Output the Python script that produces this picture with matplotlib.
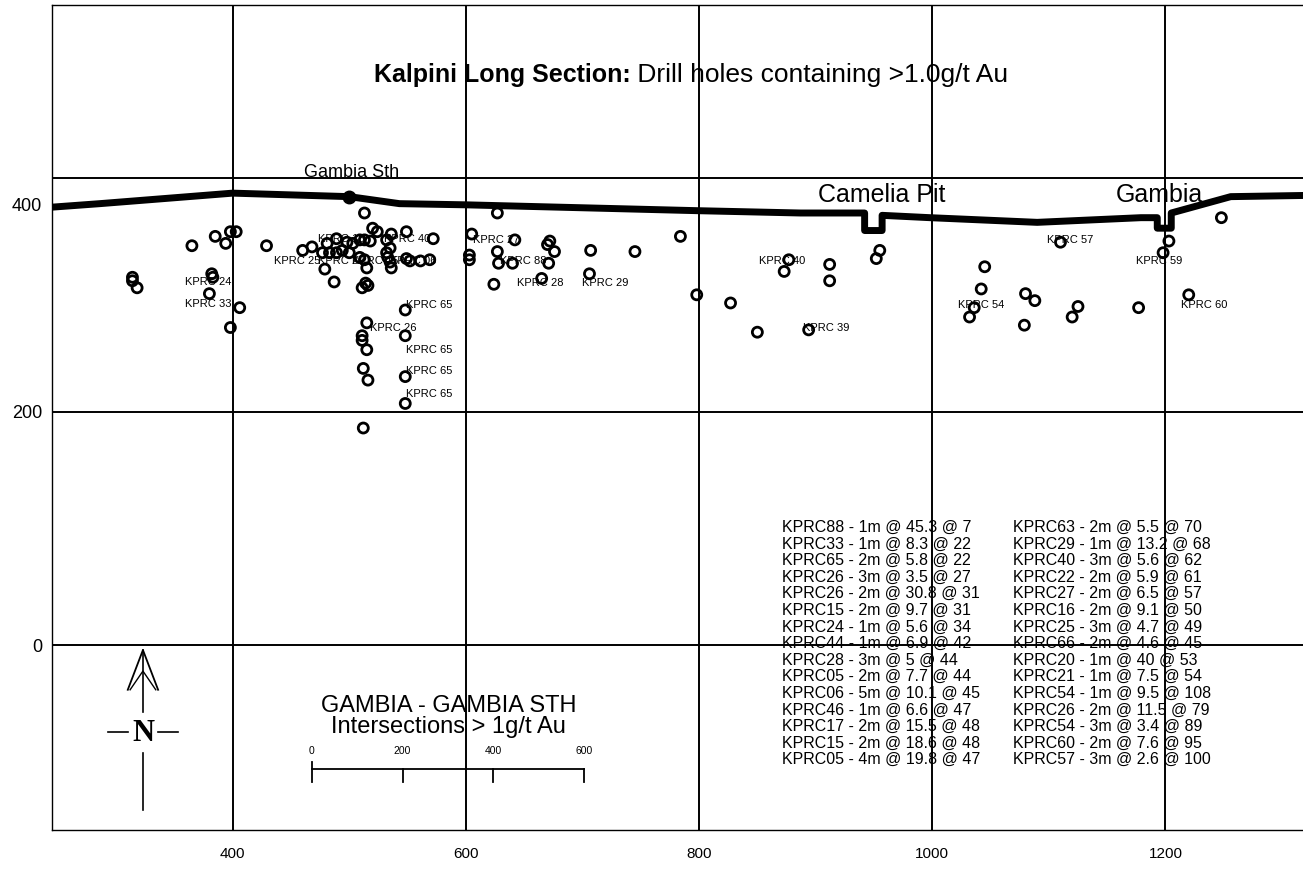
import numpy as np
import matplotlib
matplotlib.use("Agg")
import matplotlib.pyplot as plt
import matplotlib.transforms as mtransforms

plt.rcParams['font.family'] = ['Liberation Sans', 'DejaVu Sans']

# --- data (easting vs RL) ---
hole_x = [314, 314, 318, 365, 385, 394, 398, 403, 382, 383, 380, 406, 398, 429, 460,
          468, 479, 487, 513, 520, 524, 536, 549, 572, 509, 513, 518, 477, 483, 489,
          494, 500, 481, 489, 498, 503, 509, 513, 515, 532, 535, 532, 533, 535, 536,
          549, 552, 561, 569, 511, 514, 516, 548, 515, 511, 511, 515, 548, 512, 516,
          548, 548, 512, 627, 605, 603, 603, 627, 628, 640, 642, 624, 672, 670, 676,
          671, 665, 707, 706, 745, 784, 798, 827, 850, 877, 873, 894, 912, 912, 955,
          952, 1045, 1042, 1036, 1032, 1080, 1088, 1079, 1125, 1120, 1110, 1177, 1203,
          1198, 1248, 1220]
hole_y = [315, 312, 306, 342, 350, 344, 354, 354, 318, 315, 301, 289, 272, 342, 338,
          341, 322, 311, 370, 357, 354, 352, 354, 348, 347, 347, 346, 336, 336, 336,
          338, 336, 344, 348, 345, 344, 332, 330, 323, 347, 340, 336, 332, 328, 323,
          331, 329, 329, 330, 306, 310, 308, 287, 276, 265, 261, 253, 265, 237, 227,
          230, 207, 186, 370, 352, 334, 330, 337, 327, 327, 347, 309, 346, 343, 337,
          327, 314, 338, 318, 337, 350, 300, 293, 268, 330, 320, 270, 326, 312, 338,
          331, 324, 305, 289, 281, 301, 295, 274, 290, 281, 345, 289, 346, 336, 366,
          300]

surface_x = [245, 286, 400, 500, 543, 600, 798, 887, 942, 942, 957, 957, 998, 1090,
             1179, 1193, 1193, 1205, 1205, 1256, 1318]
surface_y = [375, 378, 387, 384, 378, 377, 372, 370, 370, 355, 355, 368, 366, 362,
             366, 366, 357, 357, 370, 384, 385]

hole_labels = ["KPRC 24", "KPRC 33", "KPRC 16", "KPRC 40", "KPRC 25", "KPRC 22",
               "KPRC 15", "KPRC 06", "KPRC 65", "KPRC 26", "KPRC 65", "KPRC 65",
               "KPRC 65", "KPRC 27", "KPRC 88", "KPRC 28", "KPRC 29", "KPRC 40",
               "KPRC 39", "KPRC 54", "KPRC 57", "KPRC 59", "KPRC 60"]
label_x = [359, 359, 473, 530, 435, 473, 502, 535, 549, 518, 549, 549, 549, 606, 629,
           644, 700, 851, 889, 1022, 1098, 1175, 1213]
label_y = [311, 292, 348, 348, 329, 329, 329, 329, 291, 272, 253, 235, 215, 347, 329,
           310, 310, 329, 272, 291, 347, 329, 291]

pits = ["Gambia Sth", "Camelia Pit", "Gambia"]
pit_x = [502, 957, 1195]
pit_y = [405, 385, 385]

table_left = ["KPRC88 - 1m @ 45.3 @ 7", "KPRC33 - 1m @ 8.3 @ 22", "KPRC65 - 2m @ 5.8 @ 22",
              "KPRC26 - 3m @ 3.5 @ 27", "KPRC26 - 2m @ 30.8 @ 31", "KPRC15 - 2m @ 9.7 @ 31",
              "KPRC24 - 1m @ 5.6 @ 34", "KPRC44 - 1m @ 6.9 @ 42", "KPRC28 - 3m @ 5 @ 44",
              "KPRC05 - 2m @ 7.7 @ 44", "KPRC06 - 5m @ 10.1 @ 45", "KPRC46 - 1m @ 6.6 @ 47",
              "KPRC17 - 2m @ 15.5 @ 48", "KPRC15 - 2m @ 18.6 @ 48", "KPRC05 - 4m @ 19.8 @ 47"]
table_right = ["KPRC63 - 2m @ 5.5 @ 70", "KPRC29 - 1m @ 13.2 @ 68", "KPRC40 - 3m @ 5.6 @ 62",
               "KPRC22 - 2m @ 5.9 @ 61", "KPRC27 - 2m @ 6.5 @ 57", "KPRC16 - 2m @ 9.1 @ 50",
               "KPRC25 - 3m @ 4.7 @ 49", "KPRC66 - 2m @ 4.6 @ 45", "KPRC20 - 1m @ 40 @ 53",
               "KPRC21 - 1m @ 7.5 @ 54", "KPRC54 - 1m @ 9.5 @ 108", "KPRC26 - 2m @ 11.5 @ 79",
               "KPRC54 - 3m @ 3.4 @ 89", "KPRC60 - 2m @ 7.6 @ 95", "KPRC57 - 3m @ 2.6 @ 100"]

scale_ticks = [0, 200, 400, 600]

fig = plt.figure(figsize=(13.03, 8.75), dpi=100)
ax = fig.add_axes([52 / 1303, 45 / 875, 1251 / 1303, 825 / 875])
ax.set_xlim(245, 1318)
ax.set_ylim(-158, 548)

ax.set_xticks([400, 600, 800, 1000, 1200])
ax.set_yticks([0, 200, 400])
ax.grid(True, color='black', linewidth=1.4)
ax.set_axisbelow(True)
ax.tick_params(length=0)
ax.tick_params(axis='x', labelsize=11, pad=12)
ax.tick_params(axis='y', labelsize=13, pad=7)
for sp in ax.spines.values():
    sp.set_linewidth(1.0)
ax.spines['right'].set_visible(False)

# the 400 label sits lower than its gridline in the original
lab400 = ax.get_yticklabels()[2]
lab400.set_transform(lab400.get_transform() +
                     mtransforms.ScaledTranslation(0, -0.27, fig.dpi_scale_trans))

# ground surface
ax.plot(surface_x, surface_y, color='black', linewidth=5, solid_joinstyle='round',
        solid_capstyle='round', zorder=3)
ax.plot([500], [384], 'o', color='black', markersize=9, zorder=4)

# drill hole intersections
ax.scatter(hole_x, hole_y, s=52, facecolors='none', edgecolors='black', linewidths=2.0,
           zorder=4)

for t, x, y in zip(hole_labels, label_x, label_y):
    ax.text(x, y, t, fontsize=8, ha='left', va='center', zorder=5)

for t, x, y in zip(pits, pit_x, pit_y):
    ax.text(x, y, t, fontsize=13 if t == "Gambia Sth" else 18, ha='center', va='center')

# title
ax.text(741, 488, "Kalpini Long Section:", fontsize=18, fontweight='bold', ha='right',
        va='center')
ax.text(741, 488, " Drill holes containing >1.0g/t Au", fontsize=19, ha='left',
        va='center')

# intersection table
row_step = 14.2
for i, t in enumerate(table_left):
    ax.text(871, 101 - i * row_step, t, fontsize=11.5, ha='left', va='center')
for i, t in enumerate(table_right):
    ax.text(1069, 101 - i * row_step, t, fontsize=11.5, ha='left', va='center')

# legend block
ax.text(585, -52, "GAMBIA - GAMBIA STH", fontsize=17, ha='center', va='center')
ax.text(585, -70, "Intersections > 1g/t Au", fontsize=17, ha='center', va='center')

bar_x0, bar_x1 = 468, 701
tick_pos = [bar_x0 + (bar_x1 - bar_x0) * v / scale_ticks[-1] for v in scale_ticks]
ax.plot([bar_x0, bar_x1], [-106, -106], color='black', linewidth=1.3)
for p, v in zip(tick_pos, scale_ticks):
    ax.plot([p, p], [-100 if v == 0 else -106, -117], color='black', linewidth=1.3)
    ax.text(p, -95, str(v), fontsize=7.5, ha='center', va='bottom')

# north arrow
nx = 323
ax.plot([nx, nx], [-4, -57], color='black', linewidth=1.2)
ax.plot([nx, nx], [-92, -141], color='black', linewidth=1.2)
ax.plot([310, nx, 336], [-38, -4, -38], color='black', linewidth=1.3)
ax.plot([312, nx, 334], [-38, -22, -38], color='black', linewidth=1.0)
ax.plot([293, 310], [-74, -74], color='black', linewidth=1.2)
ax.plot([336, 353], [-74, -74], color='black', linewidth=1.2)
ax.text(nx, -75, "N", fontsize=22, fontweight='bold', ha='center', va='center',
        family=['Liberation Serif', 'DejaVu Serif'])

fig.savefig('out.png', dpi=100)
